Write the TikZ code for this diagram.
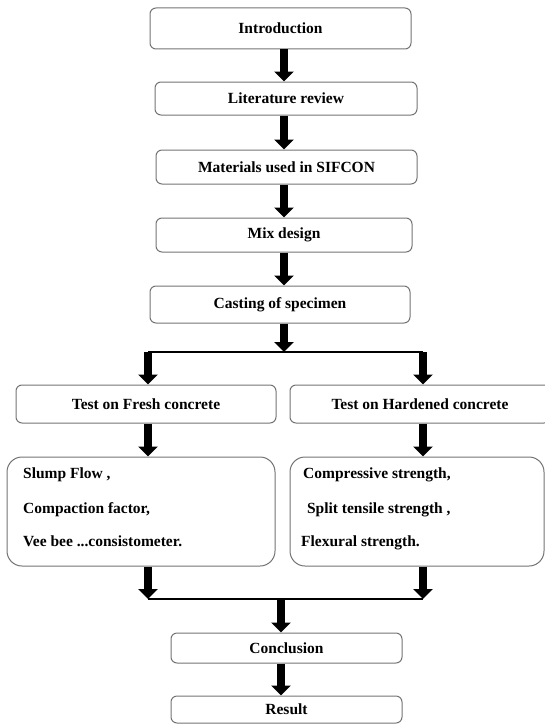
\documentclass[tikz,border=0pt]{standalone}
\usepackage{fontspec}
\setmainfont{Liberation Serif}
\usetikzlibrary{arrows.meta,calc}
\begin{document}
\begin{tikzpicture}[x=1pt,y=-1pt,
  txt/.style={font=\fontsize{15.5}{18}\selectfont\bfseries},
  box/.style={draw=black!55, line width=1pt, rounded corners=6pt, inner sep=0pt, txt},
  bigbox/.style={draw=black!55, line width=1pt, rounded corners=15pt, inner sep=0pt},
  item/.style={anchor=base west, inner sep=0pt, txt},
  bigarrow/.style={line width=8pt, -{Triangle[length=10pt,width=19pt]}},
  joinline/.style={line width=1.5pt}]
\useasboundingbox (0,0) rectangle (545,725);

% main column boxes
\node[box, minimum width=261pt, minimum height=41pt] (intro) at (280.5,28.5) {Introduction};
\node[box, minimum width=262pt, minimum height=33pt] (lit) at (286,98.5) {Literature review};
\node[box, minimum width=261pt, minimum height=34pt] (mat) at (286.5,167) {Materials used in SIFCON};
\node[box, minimum width=256pt, minimum height=34pt] (mix) at (284,235) {Mix design};
\node[box, minimum width=260pt, minimum height=37pt] (cast) at (280,304.5) {Casting of specimen};

% branch boxes
\node[box, minimum width=260pt, minimum height=38pt] (fresh) at (146,404) {Test on Fresh concrete};
\node[box, minimum width=260pt, minimum height=38pt] (hard) at (420,404) {Test on Hardened concrete};

\node[bigbox, minimum width=268pt, minimum height=109pt] (fbox) at (141,511.5) {};
\node[bigbox, minimum width=254pt, minimum height=109pt] (hbox) at (417,511.5) {};

\node[item] (f1) at (23,478) {Slump Flow ,};
\node[item] (f2) at (23,513) {Compaction factor,};
\node[item] (f3) at (23,546) {Vee bee ...consistometer.};
\node[item] (h1) at (303,478) {Compressive strength,};
\node[item] (h2) at (303,513) {\ Split tensile strength ,};
\node[item] (h3) at (301,546) {Flexural strength.};

\node[box, minimum width=231pt, minimum height=30pt] (conc) at (286.5,648) {Conclusion};
\node[box, minimum width=231pt, minimum height=27pt] (res) at (286.5,709.5) {Result};

% helper coordinates
\coordinate (colA) at (284,0);
\coordinate (colB) at (281,0);
\coordinate (sL) at (148,352);
\coordinate (sR) at (423,352);
\coordinate (sC) at (284,352);
\coordinate (jL) at (148,599);
\coordinate (jR) at (423,599);
\coordinate (jC) at (281,599);

% arrows of the main column
\draw[bigarrow] (intro.south -| colA) -- (lit.north -| colA);
\draw[bigarrow] (lit.south -| colA) -- (mat.north -| colA);
\draw[bigarrow] (mat.south -| colA) -- (mix.north -| colA);
\draw[bigarrow] (mix.south -| colA) -- (cast.north -| colA);
\draw[bigarrow] (cast.south -| colA) -- (sC);

% split
\draw[joinline] (sL) -- (sR);
\draw[bigarrow] (sL) -- (fresh.north -| sL);
\draw[bigarrow] (sR) -- (hard.north -| sR);
\draw[bigarrow] (fresh.south -| sL) -- (fbox.north -| sL);
\draw[bigarrow] (hard.south -| sR) -- (hbox.north -| sR);
\draw[bigarrow] (fbox.south -| jL) -- (jL);
\draw[bigarrow] (hbox.south -| jR) -- (jR);

% merge
\draw[joinline] (jL) -- (jR);
\draw[bigarrow] (jC) -- (conc.north -| colB);
\draw[bigarrow] (conc.south -| colB) -- (res.north -| colB);
\end{tikzpicture}
\end{document}
